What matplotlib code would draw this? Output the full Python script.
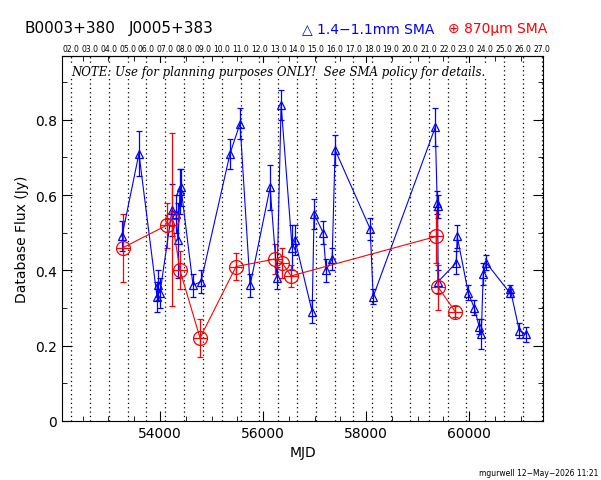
import matplotlib
matplotlib.use('Agg')
import matplotlib.pyplot as plt
import numpy as np

# 1.4-1.1mm SMA (blue)
blue_mjd = [53262, 53592, 53942, 53961, 54000, 54233, 54311, 54349, 54388, 54408,
            54641, 54796, 55359, 55553, 55748, 56136, 56272, 56350, 56563, 56621,
            56952, 56990, 57165, 57223, 57340, 57398, 58078, 58136, 59340, 59379,
            59387, 59398, 59748, 59767, 59981, 60097, 60194, 60233, 60272, 60330,
            60787, 60796, 60971, 61107]
blue_flux = [0.49, 0.71, 0.33, 0.36, 0.34, 0.56, 0.55, 0.48, 0.61, 0.62,
             0.36, 0.37, 0.71, 0.79, 0.36, 0.62, 0.38, 0.84, 0.46, 0.48,
             0.29, 0.55, 0.50, 0.40, 0.43, 0.72, 0.51, 0.33, 0.78, 0.58,
             0.57, 0.37, 0.42, 0.49, 0.34, 0.30, 0.25, 0.23, 0.39, 0.42,
             0.34, 0.35, 0.24, 0.23]
blue_err = [0.04, 0.06, 0.04, 0.04, 0.04, 0.07, 0.05, 0.10, 0.06, 0.05,
            0.03, 0.03, 0.04, 0.04, 0.03, 0.06, 0.03, 0.04, 0.06, 0.04,
            0.03, 0.04, 0.03, 0.03, 0.03, 0.04, 0.03, 0.02, 0.05, 0.03,
            0.03, 0.03, 0.03, 0.03, 0.02, 0.02, 0.02, 0.04, 0.03, 0.02,
            0.01, 0.01, 0.02, 0.02]

# 870um SMA (red)
red_mjd = [53281, 54136, 54233, 54388, 54777, 55476, 56233, 56369, 56544,
           59359, 59398, 59728]
red_flux = [0.46, 0.52, 0.535, 0.40, 0.22, 0.41, 0.43, 0.42, 0.385,
            0.49, 0.355, 0.29]
red_err = [0.09, 0.06, 0.23, 0.05, 0.05, 0.035, 0.04, 0.04, 0.03,
           0.07, 0.06, 0.015]

years = list(range(2002, 2028))

fig = plt.figure(figsize=(6.01, 4.81), dpi=100)
ax = fig.add_axes([0.103, 0.123, 0.801, 0.759])

for yr in years:
    mjd = 52275 + (yr - 2002) * 365.25
    ax.axvline(mjd, color='black', ls=(0, (1, 2.5)), lw=0.9)

ax.errorbar(blue_mjd, blue_flux, yerr=blue_err, color='blue', lw=0.8,
            marker='^', mfc='none', ms=6, mew=0.9, capsize=2.5, elinewidth=0.9)
ax.errorbar(red_mjd, red_flux, yerr=red_err, color='red', lw=0.8,
            marker='o', mfc='none', ms=10, mew=0.9, capsize=2.5, elinewidth=0.9)
ax.plot(red_mjd, red_flux, ls='none', marker='+', color='red', ms=10, mew=0.9)

ax.set_xlim(52097, 61437)
ax.set_ylim(0, 0.97)
ax.set_xticks([54000, 56000, 58000, 60000])
ax.set_xticks(np.arange(52500, 61500, 500), minor=True)
ax.set_yticks([0, 0.2, 0.4, 0.6, 0.8])
ax.set_yticks(np.arange(0, 0.97, 0.1), minor=True)
ax.tick_params(which='both', direction='in', top=True, right=True, labelsize=10)
ax.tick_params(which='major', length=7)
ax.tick_params(which='minor', length=3.5)
ax.set_yticklabels(['0', '0.2', '0.4', '0.6', '0.8'])
ax.set_xlabel('MJD', fontsize=10)
ax.set_ylabel('Database Flux (Jy)', fontsize=10)

top = ax.secondary_xaxis('top', functions=(lambda m: m, lambda m: m))
top.set_xticks([52275 + (yr - 2002) * 365.25 for yr in years])
top.set_xticklabels(['%02d.0' % (yr - 2000) for yr in years], fontsize=5.5)
top.tick_params(length=0, pad=2)

ax.text(0.02, 0.975, 'NOTE: Use for planning purposes ONLY!  See SMA policy for details.',
        transform=ax.transAxes, fontsize=8.5, family='DejaVu Serif', style='italic',
        va='top', ha='left', bbox=dict(facecolor='white', edgecolor='none', pad=1))

fig.text(24 / 601, 0.94, 'B0003+380', fontsize=11, va='center')
fig.text(129 / 601, 0.94, 'J0005+383', fontsize=11, va='center')
fig.text(302 / 601, 0.94, '\u25b3 1.4\u22121.1mm SMA', fontsize=10, color='blue', va='center')
fig.text(448 / 601, 0.94, '\u2295 870\u03bcm SMA', fontsize=10, color='red', va='center')
fig.text(0.995, 0.01, 'mgurwell 12\u2212May\u22122026 11:21', fontsize=5.5, ha='right')

fig.savefig('out.png', dpi=100)
